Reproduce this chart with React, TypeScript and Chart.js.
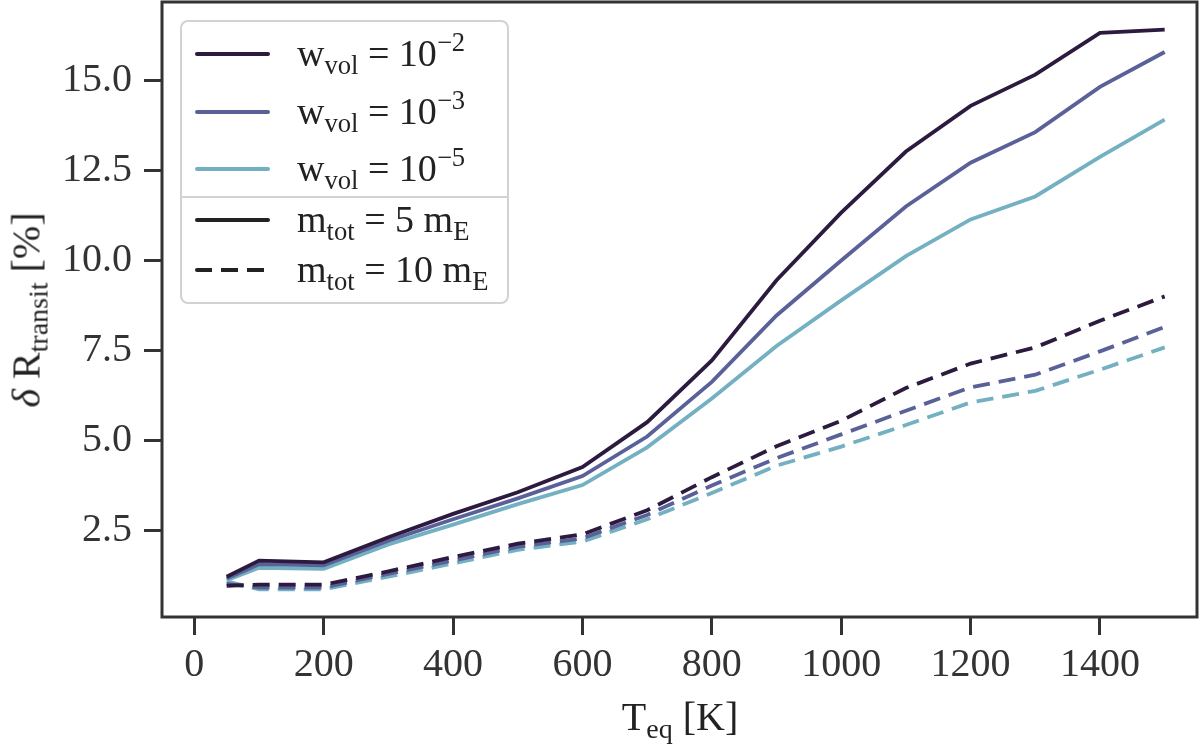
import { useEffect, useRef } from "react"
import { Chart, registerables } from "chart.js"

Chart.register(...registerables)

// equilibrium temperatures [K]
const temperatures = [50, 100, 200, 300, 400, 500, 600, 700, 800, 900, 1000, 1100, 1200, 1300, 1400, 1500]

// delta R_transit [%], m_tot = 5 m_E
const solidW2 = [1.2, 1.65, 1.6, 2.3, 2.95, 3.55, 4.25, 5.5, 7.22, 9.45, 11.33, 13.03, 14.3, 15.17, 16.33, 16.42]
const solidW3 = [1.15, 1.55, 1.52, 2.2, 2.8, 3.38, 4.0, 5.1, 6.62, 8.47, 10.0, 11.5, 12.72, 13.57, 14.83, 15.8]
const solidW5 = [1.1, 1.45, 1.42, 2.1, 2.65, 3.22, 3.75, 4.8, 6.16, 7.62, 8.89, 10.12, 11.14, 11.78, 12.88, 13.92]

// delta R_transit [%], m_tot = 10 m_E
const dashedW2 = [0.95, 0.98, 0.98, 1.35, 1.75, 2.12, 2.38, 3.05, 3.97, 4.83, 5.54, 6.45, 7.13, 7.58, 8.32, 9.0]
const dashedW3 = [1.0, 0.9, 0.9, 1.28, 1.65, 2.03, 2.27, 2.92, 3.74, 4.5, 5.16, 5.82, 6.47, 6.82, 7.47, 8.15]
const dashedW5 = [1.07, 0.85, 0.85, 1.2, 1.57, 1.95, 2.18, 2.8, 3.53, 4.29, 4.82, 5.42, 6.05, 6.37, 6.96, 7.58]

const wvolExponents = ["2", "3", "5"]
const massLabels = ["5", "10"]
const xTicks = [0, 200, 400, 600, 800, 1000, 1200, 1400]
const yTicks = [2.5, 5.0, 7.5, 10.0, 12.5, 15.0]

const colors = ["#2c1b3e", "#5a6199", "#73b0c1"]
const axisColor = "#333333"
const fontFamily = "'Liberation Serif', 'Times New Roman', serif"
const dashPattern = [17, 9]

// draws the full box around the plot area (matplotlib spines)
const framePlugin = {
  id: "frame",
  afterDraw(chart: Chart) {
    const { ctx, chartArea } = chart
    ctx.save()
    ctx.strokeStyle = axisColor
    ctx.lineWidth = 3
    ctx.strokeRect(chartArea.left, chartArea.top, chartArea.right - chartArea.left, chartArea.bottom - chartArea.top)
    ctx.restore()
  },
}

const sub = (t: string) => (
  <span style={{ fontSize: "0.7em", position: "relative", top: "0.3em" }}>{t}</span>
)
const sup = (t: string) => (
  <span style={{ fontSize: "0.7em", position: "relative", top: "-0.55em" }}>{t}</span>
)

export default function App() {
  const chartRef = useRef<HTMLCanvasElement>(null)
  const chartInstance = useRef<Chart | null>(null)

  useEffect(() => {
    document.body.style.margin = "0"
    if (!chartRef.current) return
    if (chartInstance.current) chartInstance.current.destroy()
    const ctx = chartRef.current.getContext("2d")
    if (!ctx) return

    const toPoints = (vals: number[]) => temperatures.map((t, i) => ({ x: t, y: vals[i] }))
    const solid = [solidW2, solidW3, solidW5]
    const dashed = [dashedW2, dashedW3, dashedW5]

    const datasets: any[] = []
    dashed.forEach((vals, i) => {
      datasets.push({
        label: `10 mE, w=1e-${wvolExponents[i]}`,
        data: toPoints(vals),
        borderColor: colors[i],
        borderWidth: 3.8,
        borderDash: dashPattern,
        pointRadius: 0,
        tension: 0,
      })
    })
    solid.forEach((vals, i) => {
      datasets.push({
        label: `5 mE, w=1e-${wvolExponents[i]}`,
        data: toPoints(vals),
        borderColor: colors[i],
        borderWidth: 3.8,
        pointRadius: 0,
        tension: 0,
      })
    })

    const tickFont = { family: fontFamily, size: 40 }

    chartInstance.current = new Chart(ctx, {
      type: "line",
      data: { datasets },
      options: {
        responsive: false,
        animation: false,
        layout: { padding: { left: 0, right: 3, top: 2, bottom: 0 } },
        plugins: { legend: { display: false }, tooltip: { enabled: false } },
        scales: {
          x: {
            type: "linear",
            min: -50,
            max: 1550,
            afterBuildTicks: (scale: any) => {
              scale.ticks = xTicks.map((v) => ({ value: v }))
            },
            afterFit: (scale: any) => {
              scale.height = 127
              scale.paddingLeft = 0
              scale.paddingRight = 0
            },
            border: { display: false },
            grid: { drawOnChartArea: false, drawTicks: true, tickLength: 18, tickWidth: 3, tickColor: axisColor },
            ticks: { font: tickFont, color: axisColor, padding: 6, maxRotation: 0, callback: (v: any) => String(v) },
          },
          y: {
            type: "linear",
            min: 0.08,
            max: 17.19,
            afterBuildTicks: (scale: any) => {
              scale.ticks = yTicks.map((v) => ({ value: v }))
            },
            afterFit: (scale: any) => {
              scale.width = 162
              scale.paddingTop = 0
              scale.paddingBottom = 0
            },
            border: { display: false },
            grid: { drawOnChartArea: false, drawTicks: true, tickLength: 18, tickWidth: 3, tickColor: axisColor },
            ticks: { font: tickFont, color: axisColor, padding: 12, callback: (v: any) => Number(v).toFixed(1) },
          },
        },
      },
      plugins: [framePlugin],
    })

    return () => {
      if (chartInstance.current) {
        chartInstance.current.destroy()
        chartInstance.current = null
      }
    }
  }, [])

  const rowStyle = (top: number): React.CSSProperties => ({
    position: "absolute",
    left: 0,
    top: top - 25,
    height: 50,
    width: "100%",
  })
  const sampleStyle = (color: string, dashedLine: boolean): React.CSSProperties => ({
    position: "absolute",
    left: 13,
    top: 23,
    width: 75,
    height: 4,
    borderRadius: 2,
    background: dashedLine
      ? `repeating-linear-gradient(to right, ${color} 0 ${dashPattern[0]}px, transparent ${dashPattern[0]}px ${dashPattern[0] + dashPattern[1]}px)`
      : color,
  })
  const textStyle: React.CSSProperties = {
    position: "absolute",
    left: 115,
    top: 4,
    fontSize: 38,
    lineHeight: "40px",
    color: "#222",
    whiteSpace: "nowrap",
  }

  const wRows = [32, 90, 147]
  const mRows = [198, 248]

  return (
    <div style={{ position: "relative", width: 1200, height: 744, background: "#fff", fontFamily }}>
      <canvas ref={chartRef} width={1200} height={744} style={{ position: "absolute", left: 0, top: 0, width: 1200, height: 744 }} />

      <div
        style={{
          position: "absolute",
          left: 180,
          top: 20,
          width: 325,
          height: 280,
          border: "2px solid #d2d2d2",
          borderRadius: 8,
          background: "rgba(255,255,255,0.85)",
        }}
      >
        {wvolExponents.map((e, i) => (
          <div key={e} style={rowStyle(wRows[i])}>
            <div style={sampleStyle(colors[i], false)} />
            <div style={textStyle}>
              w{sub("vol")} = 10{sup("\u2212" + e)}
            </div>
          </div>
        ))}
        <div style={{ position: "absolute", left: 0, right: 0, top: 174, height: 2, background: "#d2d2d2" }} />
        {massLabels.map((m, i) => (
          <div key={m} style={rowStyle(mRows[i])}>
            <div style={sampleStyle("#222", i === 1)} />
            <div style={textStyle}>
              m{sub("tot")} = {m} m{sub("E")}
            </div>
          </div>
        ))}
      </div>

      <div
        style={{
          position: "absolute",
          left: 680,
          top: 716,
          transform: "translate(-50%, -50%)",
          fontSize: 40,
          color: "#222",
          whiteSpace: "nowrap",
        }}
      >
        T{sub("eq")} [K]
      </div>

      <div
        style={{
          position: "absolute",
          left: 26,
          top: 310,
          transform: "translate(-50%, -50%) rotate(-90deg)",
          fontSize: 40,
          color: "#222",
          whiteSpace: "nowrap",
        }}
      >
        <i>δ</i> R{sub("transit")} [%]
      </div>
    </div>
  )
}
